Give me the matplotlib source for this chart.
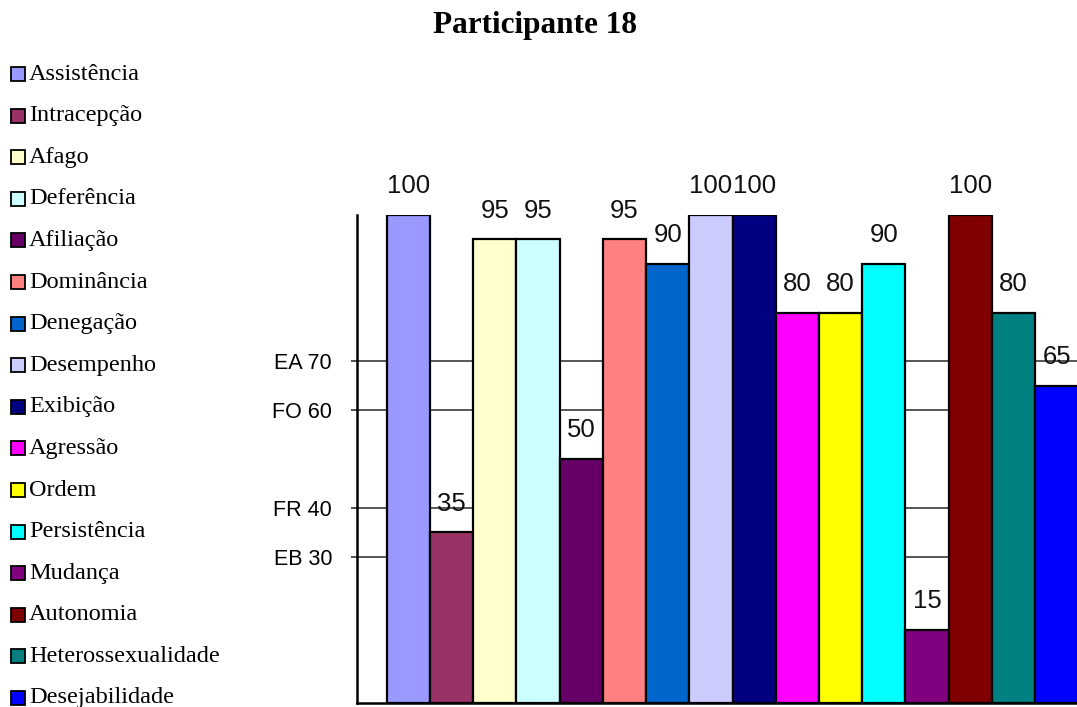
import matplotlib
matplotlib.use('Agg')
import matplotlib.pyplot as plt
from matplotlib.patches import Rectangle
import numpy as np

titulo = 'Participante 18'
escalas = ['Assistência', 'Intracepção', 'Afago', 'Deferência', 'Afiliação',
           'Dominância', 'Denegação', 'Desempenho', 'Exibição', 'Agressão',
           'Ordem', 'Persistência', 'Mudança', 'Autonomia',
           'Heterossexualidade', 'Desejabilidade']
valores = [100, 35, 95, 95, 50, 95, 90, 100, 100, 80, 80, 90, 15, 100, 80, 65]
cores = ['#9999FF', '#993366', '#FFFFCC', '#CCFFFF', '#660066', '#FF8080',
         '#0066CC', '#CCCCFF', '#000080', '#FF00FF', '#FFFF00', '#00FFFF',
         '#800080', '#800000', '#008080', '#0000FF']
faixas = [70, 60, 40, 30]
faixas_rot = ['EA 70', 'FO 60', 'FR 40', 'EB 30']

sans = ['Liberation Sans', 'DejaVu Sans']
serif = ['Liberation Serif', 'DejaVu Serif']

fig = plt.figure(figsize=(10.77, 7.07), dpi=100)
fig.patch.set_facecolor('white')

# eixo principal: lado esquerdo em x=357px, base em y=703px
ax = fig.add_axes([357 / 1077, 4 / 707, 1 - 357 / 1077, 488 / 707])
index = np.arange(len(valores))
ax.bar(index, valores, width=1.0, color=cores, edgecolor='black',
       linewidth=1.6, zorder=3)

for i, v in zip(index, valores):
    ax.annotate(str(v), (i, v), xytext=(0, 12), textcoords='offset points',
                ha='center', va='bottom', fontsize=18.5, family=sans,
                color='#111111', zorder=4)

ax.set_xlim(-1.19, 15.47)
ax.set_ylim(0, 100)
ax.set_yticks(faixas)
ax.set_yticklabels(faixas_rot, family=sans, fontsize=15.5)
ax.set_xticks([])
ax.tick_params(axis='y', length=4, width=1.2, pad=14, color='#333333')
ax.grid(axis='y', color='#3a3a3a', linewidth=1.2, zorder=0)
ax.spines['top'].set_visible(False)
ax.spines['right'].set_visible(False)
ax.spines['left'].set_linewidth(1.8)
ax.spines['bottom'].set_linewidth(1.8)
ax.set_facecolor('white')

fig.text(535 / 1077, 1 - 25 / 707, titulo, ha='center', va='center',
         fontsize=22.5, fontweight='bold', family=serif)

# legenda desenhada à mão na coluna da esquerda
topo = 74
passo = 41.6
for k, (nome, cor) in enumerate(zip(escalas, cores)):
    y = topo + k * passo
    fig.add_artist(Rectangle((11 / 1077, 1 - (y + 7) / 707), 14 / 1077, 14 / 707,
                             facecolor=cor, edgecolor='black', linewidth=1.3,
                             transform=fig.transFigure))
    fig.text(29 / 1077, 1 - y / 707, nome, ha='left', va='center',
             fontsize=17.5, family=serif)

fig.savefig('out.png', dpi=100)
